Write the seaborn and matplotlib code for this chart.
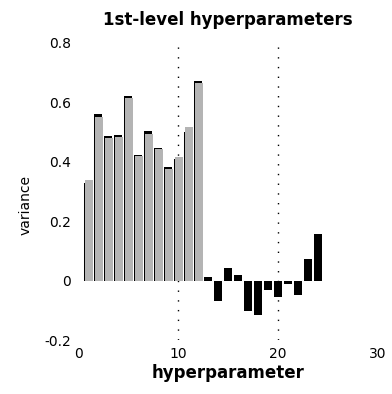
import matplotlib
matplotlib.use("Agg")
import matplotlib.pyplot as plt
import pandas as pd
import seaborn as sns

# hyperparameter index
hyperparameter = list(range(1, 25))
# black bars: all 24 hyperparameters
variance_black = [0.330, 0.560, 0.487, 0.490, 0.623, 0.422, 0.503, 0.447,
                  0.381, 0.410, 0.500, 0.673, 0.011, -0.068, 0.042, 0.019,
                  -0.102, -0.116, -0.030, -0.054, -0.011, -0.047, 0.073, 0.158]
# grey bars: first 12 hyperparameters
variance_grey = [0.340, 0.552, 0.480, 0.485, 0.615, 0.418, 0.495, 0.442,
                 0.377, 0.417, 0.516, 0.666]
# x ticks and y ticks
x_ticks = [0, 10, 20, 30]
y_ticks = [-0.2, 0, 0.2, 0.4, 0.6, 0.8]
y_tick_labels = ["-0.2", "0", "0.2", "0.4", "0.6", "0.8"]
divider_positions = [10, 20]

sns.set_theme(style="white")
plt.rcParams["font.family"] = ["DejaVu Sans"]
plt.rcParams["text.color"] = "black"
plt.rcParams["axes.labelcolor"] = "black"

fig = plt.figure(figsize=(3.92, 3.94), dpi=100)
ax = fig.add_axes([0.199, 0.137, 0.765, 0.754])

for xd in divider_positions:
    ax.axvline(xd, color="black", linestyle=(0, (1, 6)), linewidth=1.0, zorder=0)

black_df = pd.DataFrame({"hyperparameter": hyperparameter, "variance": variance_black})
sns.barplot(data=black_df, x="hyperparameter", y="variance", native_scale=True,
            width=0.8, color="black", saturation=1, errorbar=None,
            linewidth=0, ax=ax, zorder=2)

grey_df = pd.DataFrame({"hyperparameter": [h + 0.12 for h in hyperparameter[:len(variance_grey)]],
                        "variance": variance_grey})
sns.barplot(data=grey_df, x="hyperparameter", y="variance", native_scale=True,
            width=0.8, color="#b4b4b4", saturation=1, errorbar=None,
            linewidth=0, ax=ax, zorder=3)

ax.set_xlim(0, 30)
ax.set_ylim(-0.2, 0.8)
ax.set_xticks(x_ticks)
ax.set_xticklabels([str(t) for t in x_ticks])
ax.set_yticks(y_ticks)
ax.set_yticklabels(y_tick_labels)
ax.tick_params(axis="both", length=0, labelsize=10, colors="black")
ax.tick_params(axis="y", pad=5)
ax.tick_params(axis="x", pad=5)
for s in ax.spines.values():
    s.set_visible(False)

ax.set_title("1st-level hyperparameters", fontsize=12, fontweight="bold",
             color="black", pad=13)
ax.set_xlabel("hyperparameter", fontsize=12, fontweight="bold", labelpad=2)
ax.set_ylabel("variance", fontsize=10)
ax.yaxis.set_label_coords(-0.153, 0.455)

fig.savefig("out.png", dpi=100, facecolor="white")
